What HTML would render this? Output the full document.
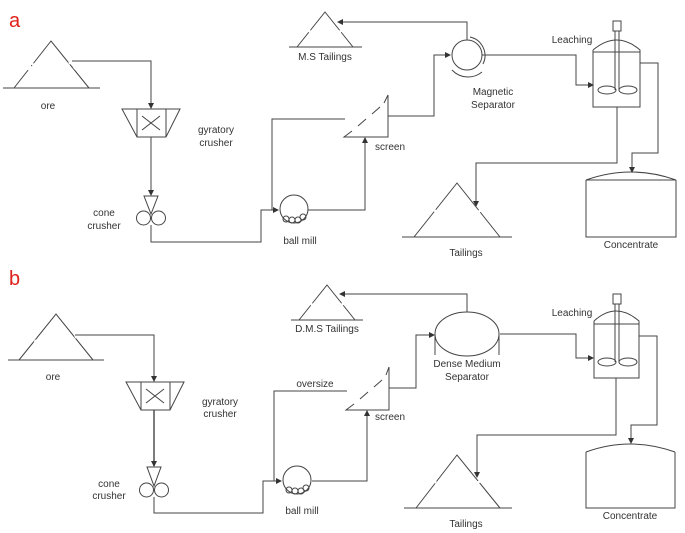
<!DOCTYPE html>
<html><head><meta charset="utf-8"><style>
html,body{margin:0;padding:0;background:#fff;}
svg{display:block;}
text{font-family:"Liberation Sans",sans-serif;font-size:10px;fill:#333;}
</style></head><body>
<svg width="685" height="533" viewBox="0 0 685 533" xmlns="http://www.w3.org/2000/svg">
<defs>
<marker id="ar" markerWidth="6" markerHeight="6" refX="5" refY="3" orient="auto" markerUnits="userSpaceOnUse">
<path d="M0,0 L6,3 L0,6 z" fill="#333"/></marker>
</defs>
<g stroke="#444" stroke-width="1" fill="none">
<!-- ===== PANEL A ===== -->
<!-- ore -->
<path d="M3,88 H100 M14,88 L51,41 L89,88"/>
<path d="M30,67 l-2,3 M33,63 l-1,2 M70,61 l2,3 M74,67 l1,2" stroke="#fff" stroke-width="2"/>
<polyline points="72,61 151,61 151,108" marker-end="url(#ar)"/>
<!-- gyratory -->
<path d="M122,109 H180 L166,137 H137 Z M137,109 V137 M166,109 V137 M142,116 L160,130 M160,116 L142,130"/>
<polyline points="151,137 151,195" marker-end="url(#ar)"/>
<!-- cone -->
<path d="M144,196 H158 L151,214 Z"/>
<circle cx="143.5" cy="218" r="7"/><circle cx="158.5" cy="218" r="7"/>
<polyline points="151,225 151,242 261,242 261,210 278,210" marker-end="url(#ar)"/>
<!-- ball mill -->
<circle cx="294" cy="209" r="14"/>
<circle cx="286" cy="219" r="3"/><circle cx="292" cy="220" r="3"/><circle cx="298" cy="220" r="3"/><circle cx="303" cy="217" r="3"/>
<polyline points="272,210 272,119 345,119"/>
<polyline points="308,210 365,210 365,138" marker-end="url(#ar)"/>
<!-- screen -->
<path d="M388,95 V137 H344 L352,131 M358,126 L366,119 M372,114 L380,107 M384,103 L388,95"/>
<polyline points="388,116 434,116 434,55 450,55" marker-end="url(#ar)"/>
<!-- magnetic separator -->
<circle cx="467" cy="55" r="15"/>
<path d="M470,37 A19,19 0 0 1 483,64"/>
<path d="M452,70 A22,22 0 0 0 482,72"/>
<polyline points="467,40 467,22 338,22" marker-end="url(#ar)"/>
<!-- MS tailings -->
<path d="M289,47 H362 M297,47 L325,12 L353,47"/>
<polyline points="482,55 576,55 576,85 593,85" marker-end="url(#ar)"/>
<!-- leaching -->
<path d="M593,50 V107 H640 V50 Q617,30 593,50 M593,52 H640"/>
<rect x="613" y="21" width="8" height="10"/>
<path d="M615,31 V90 M619,31 V90"/>
<ellipse cx="607" cy="90" rx="9" ry="4"/><ellipse cx="628" cy="90" rx="9" ry="4"/>
<polyline points="640,63 658,63 658,153 632,153 632,172" marker-end="url(#ar)"/>
<polyline points="617,107 617,163 476,163 476,206" marker-end="url(#ar)"/>
<!-- concentrate -->
<path d="M586,180 V237 H676 V180 M586,180 Q631,164 676,180 M586,180 H676"/>
<!-- tailings -->
<path d="M402,237 H512 M414,237 L457,183 L500,237"/>

<!-- ===== PANEL B ===== -->
<path d="M8,360 H104 M19,360 L56,314 L93,360"/>
<polyline points="75,335 154,335 154,381" marker-end="url(#ar)"/>
<path d="M126,382 H184 L170,410 H141 Z M141,382 V410 M170,382 V410 M146,389 L164,403 M164,389 L146,403"/>
<polyline points="154,410 154,466" marker-end="url(#ar)" stroke-width="1.4"/>
<path d="M147,467 H161 L154,486 Z"/>
<circle cx="146.5" cy="490" r="7"/><circle cx="161.5" cy="490" r="7"/>
<polyline points="154,497 154,513 263,513 263,481 281,481" marker-end="url(#ar)"/>
<circle cx="297" cy="480" r="14"/>
<circle cx="289" cy="490" r="3"/><circle cx="295" cy="491" r="3"/><circle cx="301" cy="491" r="3"/><circle cx="306" cy="488" r="3"/>
<polyline points="274,481 274,391 347,391"/>
<polyline points="312,481 367,481 367,411" marker-end="url(#ar)"/>
<path d="M389,367 V410 H346 L354,404 M360,399 L368,392 M374,387 L382,380 M386,375 L389,367"/>
<polyline points="389,388 416,388 416,335 434,335" marker-end="url(#ar)"/>
<ellipse cx="467" cy="334" rx="32" ry="22"/>
<path d="M435,334 V355 M499,334 V355"/>
<polyline points="467,312 467,294 340,294" marker-end="url(#ar)"/>
<path d="M291,320 H363 M299,320 L327,285 L355,320"/>
<polyline points="500,334 576,334 576,358 593,358" marker-end="url(#ar)"/>
<path d="M594,321 V378 H639 V321 Q616,301 594,321 M594,324 H639"/>
<rect x="613" y="294" width="8" height="10"/>
<path d="M615,304 V362 M619,304 V362"/>
<ellipse cx="607" cy="362" rx="9" ry="4"/><ellipse cx="628" cy="362" rx="9" ry="4"/>
<polyline points="639,336 657,336 657,425 631,425 631,443" marker-end="url(#ar)"/>
<polyline points="616,378 616,435 477,435 477,477" marker-end="url(#ar)"/>
<path d="M586,452 V508 H675 V452 M586,452 Q630,436 675,452"/>
<path d="M404,508 H512 M416,508 L457,455 L500,508"/>
</g>
<!-- dash gaps on piles -->
<g stroke="#fff" stroke-width="2">
<path d="M31,66 l-1.5,2 M69,62 l1.5,2 M310,30 l-1.5,2 M340,30 l1.5,2 M436,210 l-1.5,2 M479,210 l1.5,2 M36,340 l-1.5,2 M75,336 l1.5,2 M312,303 l-1.5,2 M342,303 l1.5,2 M436,481 l-1.5,2 M478,481 l1.5,2"/>
</g>
<text x="9" y="27" style="font-size:20px;fill:#e0201b">a</text>
<text x="9" y="285" style="font-size:20px;fill:#e0201b">b</text>
<g text-anchor="middle">
<text x="48" y="109">ore</text>
<text x="216" y="133">gyratory</text><text x="216" y="146">crusher</text>
<text x="104" y="216">cone</text><text x="104" y="229">crusher</text>
<text x="300" y="244">ball mill</text>
<text x="390" y="150">screen</text>
<text x="325" y="60">M.S Tailings</text>
<text x="493" y="95">Magnetic</text><text x="493" y="108">Separator</text>
<text x="572" y="43">Leaching</text>
<text x="631" y="248">Concentrate</text>
<text x="466" y="256">Tailings</text>

<text x="53" y="380">ore</text>
<text x="220" y="405">gyratory</text><text x="220" y="417">crusher</text>
<text x="109" y="487">cone</text><text x="109" y="499">crusher</text>
<text x="302" y="514">ball mill</text>
<text x="315" y="387">oversize</text>
<text x="390" y="420">screen</text>
<text x="327" y="332">D.M.S Tailings</text>
<text x="467" y="367">Dense Medium</text><text x="467" y="380">Separator</text>
<text x="572" y="316">Leaching</text>
<text x="630" y="519">Concentrate</text>
<text x="466" y="527">Tailings</text>
</g>
</svg>
</body></html>
